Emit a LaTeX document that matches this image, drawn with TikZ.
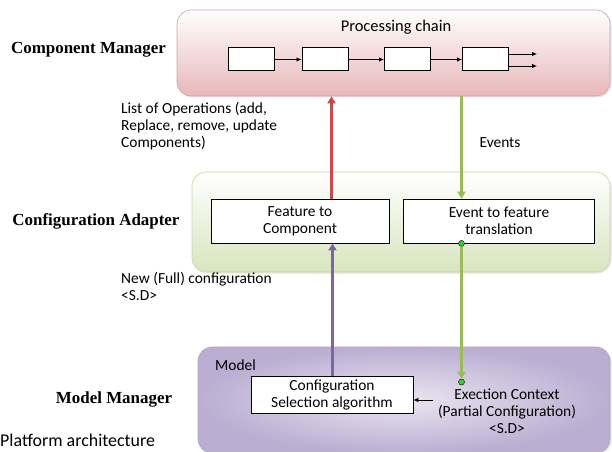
\documentclass[tikz,border=0pt]{standalone}
\usepackage{fontspec}
\setmainfont{Carlito}
\newfontfamily\rolefont{Liberation Serif}
\usetikzlibrary{positioning,arrows.meta,shadows}

\definecolor{opsred}{HTML}{C0504D}
\definecolor{evgreen}{HTML}{9BBB59}
\definecolor{cfgpurple}{HTML}{8064A2}
\definecolor{dotgreen}{HTML}{22DD22}
\definecolor{cmedge}{HTML}{CFA3A5}
\definecolor{caedge}{HTML}{C5D6A8}
\definecolor{mmedge}{HTML}{B0A2C6}
\definecolor{cmfill}{HTML}{E8B7B9}
\definecolor{cafill}{HTML}{D8E5BE}
\definecolor{mmlight}{HTML}{EAE5F0}
\definecolor{mmdark}{HTML}{BBAED2}

\tikzset{
  layer/.style={rounded corners=14bp, draw=#1, line width=0.6bp,
    drop shadow={opacity=0.2, shadow xshift=1.5bp, shadow yshift=-1.5bp}},
  block/.style={draw, line width=0.8bp, fill=white, align=center, font=\fontsize{15.5}{17}\selectfont},
  chainbox/.style={draw, line width=1bp, fill=white, minimum width=46bp, minimum height=23bp},
  role/.style={font=\rolefont\bfseries\fontsize{17}{19}\selectfont, inner sep=0pt},
  txt/.style={font=\fontsize{15.5}{17}\selectfont, align=left, inner sep=0pt},
  bigarrow/.style={line width=2.8bp, draw=#1, -{Triangle[length=7bp,width=8bp]}},
  tip/.style={-{Latex[length=5bp,width=4.5bp]}, line width=0.8bp},
  gdot/.style={circle, draw=black, line width=0.4bp, fill=dotgreen, inner sep=0pt, minimum size=6bp}
}

\begin{document}
\begin{tikzpicture}[x=1bp,y=-1bp]
  \useasboundingbox (0,0) rectangle (612,452);

  % the three layers
  \node[layer=cmedge, top color=white, bottom color=cmfill, minimum width=433bp, minimum height=86bp] (cm) at (393.5,53) {};
  \node[layer=caedge, top color=white, bottom color=cafill, minimum width=418bp, minimum height=100bp] (ca) at (401,222) {};
  \node[layer=mmedge, inner color=mmlight, outer color=mmdark, minimum width=412bp, minimum height=106bp] (mm) at (404,400) {};

  % role names on the left
  \node[role] (cmname) at (88.5,50) {Component Manager};
  \node[role] (caname) at (96,221) {Configuration Adapter};
  \node[role] (mmname) at (114,399) {Model Manager};
  \node[txt, anchor=west, font=\fontsize{18}{20}\selectfont] (platform) at (0,440) {Platform architecture};

  % processing chain
  \node[txt, font=\fontsize{16.5}{18}\selectfont] (chaintitle) at (396,27) {Processing chain};
  \foreach \i/\x in {1/251.5,2/325,3/407.5,4/485.5}
    \node[chainbox] (c\i) at (\x,59.5) {};
  \draw[tip] (c1) -- (c2);
  \draw[tip] (c2) -- (c3);
  \draw[tip] (c3) -- (c4);
  \coordinate (out1) at (537,54);
  \coordinate (out2) at (537,66);
  \draw[tip] (c4.east |- out1) -- (out1);
  \draw[tip] (c4.east |- out2) -- (out2);

  % adapter blocks
  \node[block, minimum width=178bp, minimum height=44bp] (fc) at (300,221) {Feature to\\Component};
  \node[block, minimum width=191bp, minimum height=44bp] (ev) at (499,221) {Event to feature\\translation};

  % model blocks
  \node[txt, anchor=west] (model) at (215,365) {Model};
  \node[block, minimum width=162bp, minimum height=36bp] (cs) at (332,395) {Configuration\\Selection algorithm};
  \node[txt, align=center] (ctx) at (507,411) {Exection Context\\(Partial Configuration)\\<S.D>};

  % operations going up
  \coordinate (opsfoot) at ([xshift=31.5bp]fc.north);
  \draw[bigarrow=opsred] (opsfoot) -- (opsfoot |- cm.south);
  \node[txt, anchor=north west] (opslabel) at (121,102) {List of Operations (add,\\Replace, remove, update\\Components)};

  % events going down
  \coordinate (evtop) at ([xshift=-37.5bp]ev.north);
  \draw[bigarrow=evgreen] (evtop |- cm.south) -- (evtop);
  \node[txt] (evlabel) at (500,143) {Events};

  % new configuration going up
  \coordinate (cfgfoot) at ([xshift=0.5bp]cs.north);
  \draw[bigarrow=cfgpurple] (cfgfoot) -- (cfgfoot |- fc.south);
  \node[txt, anchor=north west] (newlabel) at (121,272) {New (Full) configuration\\<S.D>};

  % execution context link
  \node[gdot] (evdot) at ([xshift=-37.5bp]ev.south) {};
  \node[gdot] (ctxdot) at (461.5,382) {};
  \draw[bigarrow=evgreen] (evdot) -- (ctxdot.north);
  \coordinate (ctxin) at (433,400);
  \draw[tip] (ctxin) -- (cs.east |- ctxin);
\end{tikzpicture}
\end{document}
